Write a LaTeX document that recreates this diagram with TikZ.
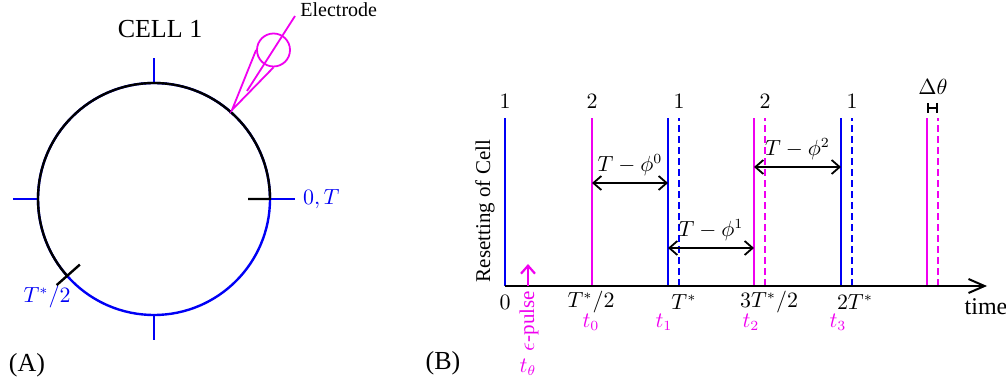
\documentclass[tikz,border=0pt]{standalone}
\usepackage{amsmath}
\usepackage{fontspec}
\setmainfont{Liberation Serif}
\usetikzlibrary{arrows.meta,calc}

\definecolor{pulsemag}{RGB}{240,0,240}
\definecolor{cellblue}{RGB}{0,0,245}
\tikzset{
  cellline/.style={cellblue,line width=1.2pt},
  pathline/.style={black,line width=1.2pt},
  resetline/.style={line width=1.2pt},
  shiftline/.style={line width=1.2pt,dash pattern=on 3.5pt off 2pt},
  gaparrow/.style={{Straight Barb[length=4pt,width=7pt]}-{Straight Barb[length=4pt,width=7pt]},line width=.9pt},
  bigtext/.style={font=\fontsize{13}{15}\selectfont},
}

\begin{document}
\begin{tikzpicture}[x=.5pt,y=.5pt,font=\fontsize{10.5}{12}\selectfont]
  \useasboundingbox (0,0) rectangle (1006,385);
  % (A) the cell
  \coordinate (ctr) at (154,186);
  \draw[cellline] (ctr) circle[radius=116];
  \foreach \a in {0,90,180,270}{
    \draw[cellline] (ctr) ++(\a:116) coordinate (tick\a) -- ++(\a:25);
  }
  \draw[pathline] (tick0) ++(-22,0) -- (tick0) arc[start angle=0,end angle=222,radius=116];
  \draw[pathline] (ctr) ++(221.5:99) coordinate (half) -- ++(221.5:31);
  \node[cellblue,anchor=west] (zeroT) at (296,186) {$0,T$};
  \node[cellblue] (halfT) at (47,88) {$T^*/2$};
  \node[bigtext] (cell) at (160,356) {CELL 1};
  \node[bigtext] (lblA) at (27,20) {(A)};
  % electrode
  \coordinate (tipE) at (232,275);
  \node[pulsemag,draw,circle,line width=.9pt,minimum size=16.5pt,inner sep=0] (bulb) at (273.5,335) {};
  \draw[pulsemag,line width=.9pt] (bulb.west) -- (tipE) -- (bulb.south);
  \coordinate (needleA) at (247,294);
  \coordinate (needleB) at (295,369);
  \draw[pulsemag,line width=.9pt] (needleA) -- (needleB);
  \node[anchor=base west,inner sep=0,font=\fontsize{10}{12}\selectfont] (elec) at (300,368) {Electrode};

  % (B) resetting times
  \foreach \n/\x in {r0/505,r1/592,r2/668,s2/679,r3/754,s3/765,r4/841,s4/852,r5/927,s5/938}{
    \coordinate (\n b) at (\x,99);
    \coordinate (\n t) at (\x,267);
  }
  \foreach \n/\c in {r0/cellblue,r1/pulsemag,r2/cellblue,r3/pulsemag,r4/cellblue,r5/pulsemag}
    \draw[resetline,\c] (\n b) -- (\n t);
  \foreach \n/\c in {s2/cellblue,s3/pulsemag,s4/cellblue,s5/pulsemag}
    \draw[shiftline,\c] (\n b) -- (\n t);
  \coordinate (tend) at (987,99);
  \draw[line width=1pt,-{Straight Barb[length=8pt,width=7pt]}] (r0b) -- (tend);
  \foreach \n/\t in {r0/1,r1/2,s2/1,s3/2,s4/1}
    \node (num\n) at ($(\n t)+(0,17)$) {$\t$};
  \node (dth) at (933,298) {$\Delta\theta$};
  \draw[line width=1.2pt,{Bar[width=5pt]}-{Bar[width=5pt]}] ($(r5t)+(0,10)$) -- ($(s5t)+(0,10)$);
  \draw[gaparrow] ($(r1b)+(0,103)$) -- ($(r2b)+(0,103)$) node[midway,above=0pt] {$T-\phi^0$};
  \draw[gaparrow] ($(r2b)+(0,38)$) -- ($(r3b)+(0,38)$) node[midway,above=0pt] {$T-\phi^1$};
  \draw[gaparrow] ($(r3b)+(0,119)$) -- ($(r4b)+(0,119)$) node[midway,above=0pt] {$T-\phi^2$};
  % pulse
  \coordinate (pulse) at (528,99);
  \draw[pulsemag,line width=1.1pt,-{Straight Barb[length=4pt,width=7pt]}] (pulse) -- ++(0,22);
  \node[pulsemag,rotate=90] (eps) at (529,64) {$\epsilon$-pulse};
  \node[pulsemag] (tth) at (528,18) {$t_\theta$};
  % axis labels
  \node (x0) at (505,83) {$0$};
  \node (x1) at (591,83) {$T^*/2$};
  \node (x2) at (684,83) {$T^*$};
  \node (x3) at (769,83) {$3T^*/2$};
  \node (x4) at (855,83) {$2T^*$};
  \node[pulsemag] (t0) at (591,63) {$t_0$};
  \node[pulsemag] (t1) at (664,63) {$t_1$};
  \node[pulsemag] (t2) at (751,63) {$t_2$};
  \node[pulsemag] (t3) at (838,63) {$t_3$};
  \node[font=\fontsize{12}{14}\selectfont] (time) at (986,78) {time};
  \node[rotate=90] (ylab) at (485,174) {Resetting of Cell};
  \node[bigtext] (lblB) at (443,22) {(B)};
\end{tikzpicture}
\end{document}
